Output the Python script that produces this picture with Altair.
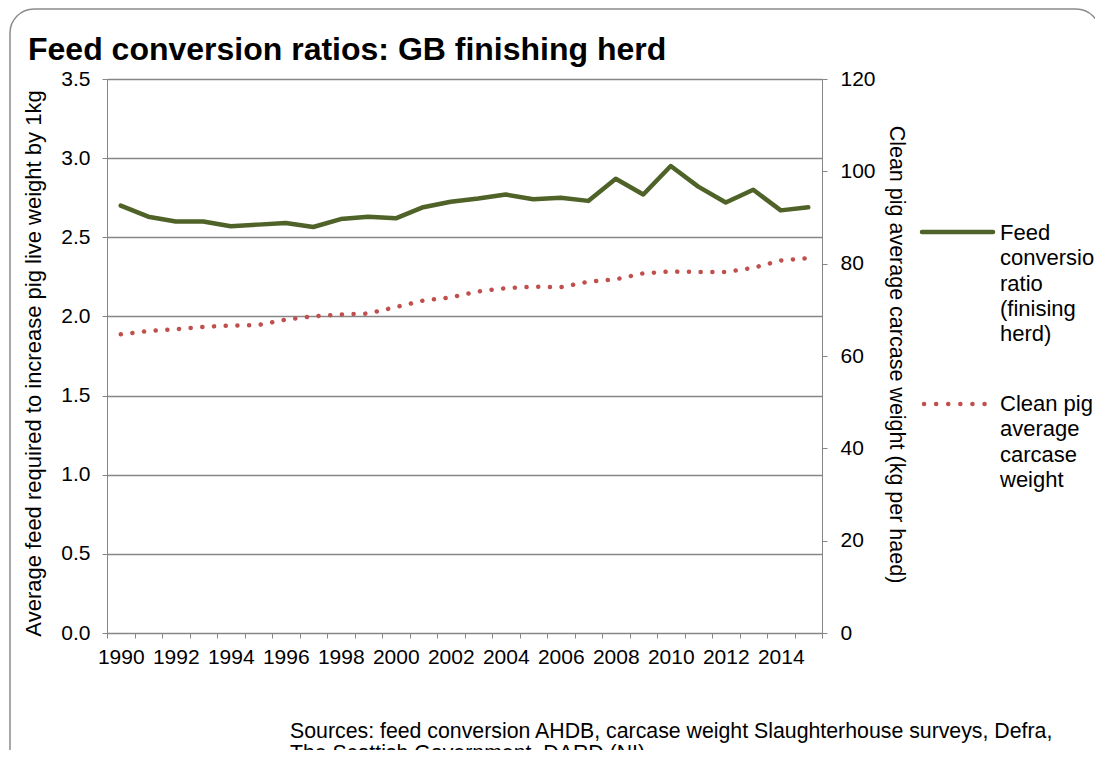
import altair as alt
import pandas as pd

years = [str(y) for y in range(1990, 2016)]
fcr = [2.70, 2.63, 2.60, 2.60, 2.57, 2.58, 2.59, 2.565, 2.615, 2.63, 2.62, 2.69, 2.725,
       2.745, 2.77, 2.74, 2.75, 2.73, 2.87, 2.77, 2.95, 2.82, 2.72, 2.80, 2.67, 2.69]
weight = [64.7, 65.4, 65.8, 66.3, 66.6, 66.7, 67.9, 68.6, 69.0, 69.2, 70.6, 72.0, 72.7,
          74.0, 74.7, 75.0, 74.9, 76.1, 76.6, 77.9, 78.3, 78.2, 78.2, 79.1, 80.7, 81.2]

title_text = "Feed conversion ratios: GB finishing herd"
left_title = "Average feed required to increase pig live weight by 1kg"
right_title = "Clean pig average carcase weight (kg per haed)"
legend_fcr = ["Feed", "conversion", "ratio", "(finising", "herd)"]
legend_wt = ["Clean pig", "average", "carcase", "weight"]
sources = ["Sources: feed conversion AHDB, carcase weight Slaughterhouse surveys, Defra,",
           "The Scottish Government, DARD (NI)"]

FONT = "Liberation Sans"
GREEN = "#4F6228"
RED = "#C0504D"
GRID = "#868686"

df = pd.DataFrame({"year": years, "fcr": fcr, "weight": weight})
one = pd.DataFrame({"k": [0]})

xenc = alt.X(
    "year:O",
    bandPosition=0.5,
    scale=alt.Scale(type="band", paddingInner=0, paddingOuter=0),
    axis=alt.Axis(
        title=None, labelAngle=0, tickBand="extent", labelFontSize=21,
        labelColor="black", labelFont=FONT, domainColor=GRID, tickColor=GRID,
        tickSize=5, labelPadding=8, grid=False,
        labelExpr="toNumber(datum.label) % 2 == 0 ? datum.label : ''",
    ),
)

base = alt.Chart(df).encode(x=xenc)

green = base.mark_line(color=GREEN, strokeWidth=4.5, strokeCap="round", strokeJoin="round").encode(
    y=alt.Y("fcr:Q",
            scale=alt.Scale(domain=[0, 3.5], nice=False, zero=True),
            axis=alt.Axis(orient="left", values=[0, 0.5, 1, 1.5, 2, 2.5, 3, 3.5], format=".1f",
                          title=left_title, titleFontSize=22, titleFontWeight="normal",
                          titleColor="black", titleFont=FONT, titleAngle=-90,
                          titleX=-74, titleY=284, titleAlign="center", titleBaseline="middle",
                          labelFontSize=21, labelColor="black", labelFont=FONT,
                          labelPadding=12, tickSize=5, tickColor=GRID, domainColor=GRID,
                          grid=True, gridColor=GRID, gridWidth=1.3))
)

red = base.mark_line(color=RED, strokeWidth=4.5, strokeCap="round",
                     strokeDash=[0.1, 11.6]).encode(
    y=alt.Y("weight:Q",
            scale=alt.Scale(domain=[0, 120], nice=False, zero=True),
            axis=alt.Axis(orient="right", values=[0, 20, 40, 60, 80, 100, 120],
                          title=right_title, titleFontSize=21.5, titleFontWeight="normal",
                          titleColor="black", titleFont=FONT, titleAngle=90,
                          titleX=73, titleY=275, titleAlign="center", titleBaseline="middle",
                          labelFontSize=21, labelColor="black", labelFont=FONT,
                          labelPadding=13, tickSize=5, tickColor=GRID, domainColor=GRID,
                          grid=False))
)

deco = alt.Chart(one)

border = deco.mark_rect(fill="transparent", stroke="#8c8c8c", strokeWidth=1.5, cornerRadius=24).encode(
    x=alt.value(-97), x2=alt.value(993), y=alt.value(-70), y2=alt.value(720))

title = deco.mark_text(text=title_text, font=FONT, fontSize=32, fontWeight="bold",
                       align="left", baseline="alphabetic", color="black").encode(
    x=alt.value(-79), y=alt.value(-19))

src = deco.mark_text(text=sources, font=FONT, fontSize=21.3, align="left",
                     baseline="alphabetic", lineHeight=21.5, color="black").encode(
    x=alt.value(183), y=alt.value(659))

leg_g = deco.mark_rule(color=GREEN, strokeWidth=4.5, strokeCap="round").encode(
    x=alt.value(815), x2=alt.value(886), y=alt.value(153))
leg_r = deco.mark_rule(color=RED, strokeWidth=4.5, strokeCap="round",
                       strokeDash=[0.1, 12]).encode(
    x=alt.value(817), x2=alt.value(878), y=alt.value(325))
leg_gt = deco.mark_text(text=legend_fcr, font=FONT, fontSize=22, align="left",
                        baseline="alphabetic", lineHeight=25.3, color="black").encode(
    x=alt.value(893), y=alt.value(161))
leg_rt = deco.mark_text(text=legend_wt, font=FONT, fontSize=22, align="left",
                        baseline="alphabetic", lineHeight=25.3, color="black").encode(
    x=alt.value(893), y=alt.value(332))

chart = alt.layer(green, red, border, title, src, leg_g, leg_r, leg_gt, leg_rt).resolve_scale(
    y="independent"
).properties(
    width=715, height=554,
    autosize=alt.AutoSizeParams(type="none"),
    padding={"left": 99, "top": 71, "right": 273, "bottom": 117},
).configure_view(stroke=None).configure(background="white")

chart.save("out.html", embed_options={"renderer": "svg", "actions": False})
